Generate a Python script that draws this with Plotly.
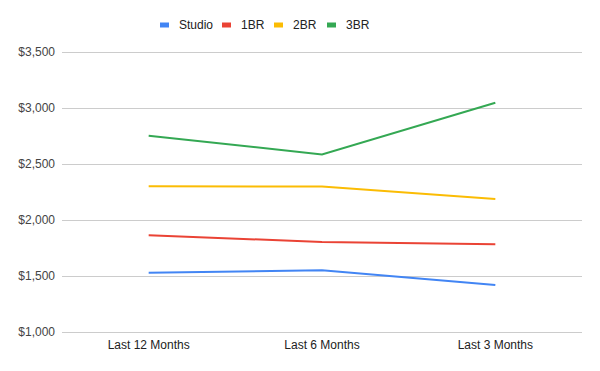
import plotly.graph_objects as go

categories = ["Last 12 Months", "Last 6 Months", "Last 3 Months"]
studio = [1530, 1551, 1420]
br1 = [1863, 1804, 1783]
br2 = [2301, 2298, 2187]
br3 = [2753, 2586, 3047]
y_ticks = [1000, 1500, 2000, 2500, 3000, 3500]
y_labels = ["$1,000", "$1,500", "$2,000", "$2,500", "$3,000", "$3,500"]

series = [("Studio", studio, "#4285F4"), ("1BR", br1, "#EA4335"),
          ("2BR", br2, "#FBBC04"), ("3BR", br3, "#34A853")]

# plot area in pixels (position of $3,500 and $1,000 gridlines)
L, R, T, B = 62, 582, 52, 332
W, H = 600, 371
EDGE = 2  # extra px so edge gridlines are drawn
scale = (B - T) / (y_ticks[-1] - y_ticks[0])
pad = EDGE / scale

fig = go.Figure()
for name, vals, color in series:
    fig.add_trace(go.Scatter(x=categories, y=vals, name=name, mode="lines",
                             line=dict(color=color, width=2), showlegend=False))

# compact legend in Google Sheets style
legend_x = [159, 221, 273, 326]
legend_y = 25
PT, PB = T - EDGE, B + EDGE
def px(x):
    return (x - L) / (R - L)
def py(y):
    return (PB - y) / (PB - PT)
for (name, _, color), lx in zip(series, legend_x):
    fig.add_shape(type="line", xref="paper", yref="paper",
                  x0=px(lx + 1), x1=px(lx + 10), y0=py(legend_y), y1=py(legend_y),
                  line=dict(color=color, width=5))
    fig.add_annotation(xref="paper", yref="paper", x=px(lx + 18), y=py(legend_y),
                       text=name, showarrow=False, xanchor="left", yanchor="middle",
                       font=dict(size=12, color="#222222"))

fig.update_layout(
    width=W, height=H,
    margin=dict(l=L, r=W - R, t=PT, b=H - PB, autoexpand=False),
    paper_bgcolor="white", plot_bgcolor="white",
    font=dict(family="Liberation Sans, Arial, sans-serif", size=12, color="#222222"),
    xaxis=dict(showgrid=False, showline=False, zeroline=False, ticks="",
               range=[-0.5, 2.5], tickfont=dict(size=12, color="#222222"),
               ticklabelstandoff=2),
    yaxis=dict(range=[y_ticks[0] - pad, y_ticks[-1] + pad], tickvals=y_ticks,
               ticktext=y_labels,
               showgrid=True, gridcolor="#CCCCCC", gridwidth=1, zeroline=False,
               ticks="", ticklabelstandoff=6, tickfont=dict(size=12, color="#444444")),
)
fig.write_html("out.html")
